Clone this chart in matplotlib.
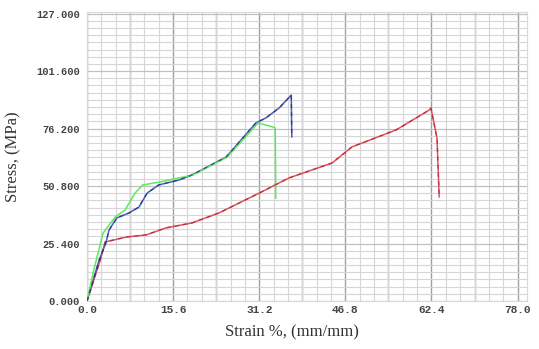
import matplotlib
matplotlib.use("Agg")
import matplotlib.pyplot as plt
import numpy as np

# Data
blue_x = [0.0, 2.2, 3.4, 4.0, 5.4, 7.6, 9.4, 10.9, 13.0, 16.7, 19.0, 25.2, 30.6, 32.4, 34.8, 37.0, 37.1]
blue_y = [0.0, 18.1, 25.6, 31.4, 36.7, 38.9, 41.5, 47.7, 51.3, 53.5, 55.7, 63.6, 78.7, 80.9, 85.3, 91.0, 72.5]

green_x = [0.0, 1.1, 2.9, 5.1, 6.9, 8.7, 10.1, 13.2, 19.2, 25.4, 31.0, 33.7, 34.1, 34.2]
green_y = [0.0, 12.4, 30.0, 37.1, 40.2, 47.7, 51.3, 52.6, 55.7, 63.6, 78.7, 76.9, 76.4, 45.5]

red_x = [0.0, 2.4, 3.3, 7.2, 10.7, 14.3, 19.0, 23.9, 31.2, 36.6, 44.4, 48.0, 56.0, 62.0, 62.3, 63.4, 63.8]
red_y = [0.0, 18.1, 26.1, 28.3, 29.2, 32.3, 34.5, 38.9, 47.7, 54.4, 61.0, 68.1, 75.6, 84.4, 85.3, 72.0, 46.0]

xticks = [0.0, 15.6, 31.2, 46.8, 62.4, 78.0]
xtick_labels = ["0.0", "15.6", "31.2", "46.8", "62.4", "78.0"]
yticks = [0.0, 25.4, 50.8, 76.2, 101.6, 127.0]
ytick_labels = ["0.000", "25.400", "50.800", "76.200", "101.600", "127.000"]

fig = plt.figure(figsize=(5.39, 3.49), dpi=100)
ax = fig.add_axes([0.1614, 0.1375, 0.8163, 0.828])
ax.set_xlim(0, 79.7)
ax.set_ylim(0, 127.7)

# grid
ax.set_xticks(np.arange(0, 79.7, 2.6), minor=True)
ax.set_yticks(np.arange(0, 127.7, 3.175), minor=True)
ax.set_xticks(xticks)
ax.set_yticks(yticks)
ax.grid(which="minor", color="#d6d6d6", lw=0.8)
ax.grid(which="major", axis="x", color="#a0a0a0", lw=1.0)
ax.grid(which="major", axis="y", color="#c0c0c0", lw=0.9)
for x in np.arange(7.8, 79.7, 15.6):
    ax.axvline(x, color="#a0a0a0", lw=1.0, zorder=0.5)
ax.set_axisbelow(True)
for s in ax.spines.values():
    s.set_color("#d8d8d8")
ax.tick_params(which="both", length=0)
ax.tick_params(axis="y", pad=5)
ax.tick_params(axis="x", pad=3)
ax.set_xticklabels(xtick_labels, fontsize=8, family="Liberation Mono", weight="bold", color="#444444")
ax.set_yticklabels(ytick_labels, fontsize=7.5, family="Liberation Mono", weight="bold", color="#444444")

# curves
for xs, ys, c, dc in [(red_x, red_y, "#e8505a", "#8a2030"),
                      (blue_x, blue_y, "#4a5cc8", "#202850"),
                      (green_x, green_y, "#5ee85e", "#5ee85e")]:
    ax.plot(xs, ys, color=c, lw=1.1, zorder=3)
    if dc != c:
        ax.plot(xs, ys, color=dc, lw=1.0, ls=(0, (3, 3)), alpha=0.6, zorder=4)

ax.set_xlabel("Strain %, (mm/mm)", fontsize=12, family="Liberation Serif", color="#333333")
ax.xaxis.set_label_coords(0.465, -0.08)
ax.set_ylabel("Stress, (MPa)", fontsize=12, family="Liberation Serif", color="#333333")
ax.yaxis.set_label_coords(-0.15, 0.5)

fig.savefig("out.png", dpi=100)
